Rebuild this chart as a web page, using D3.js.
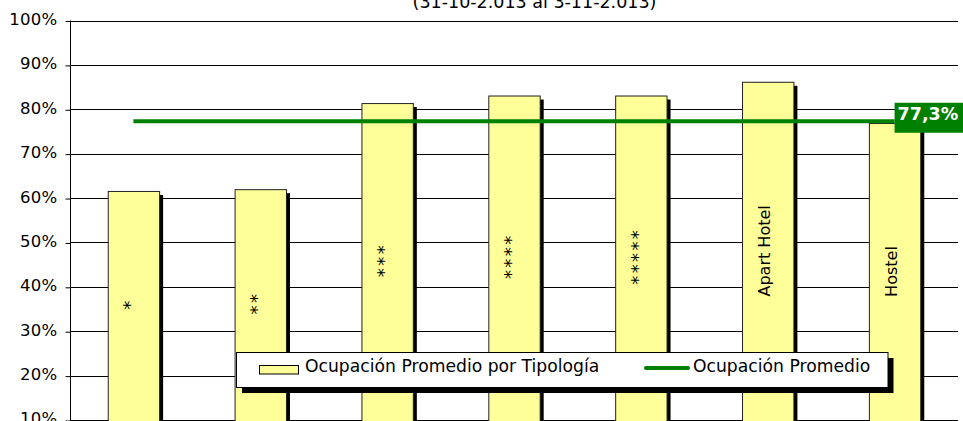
<!DOCTYPE html>
<html>
<head>
<meta charset="utf-8">
<script src="https://cdn.jsdelivr.net/npm/d3@7"></script>
<style>
html, body { margin: 0; padding: 0; background: #fff; overflow: hidden; }
svg { display: block; font-family: "DejaVu Sans", Verdana, sans-serif; }
</style>
</head>
<body>
<svg id="chart" width="963" height="421"></svg>
<script>
const categories = ["*", "**", "***", "****", "*****", "Apart Hotel", "Hostel"];
const occupancy = [61.6, 62.0, 81.4, 83.1, 83.1, 86.2, 76.9];
const averageOccupancy = 77.3;
const averageLabel = "77,3%";
const yTicks = [10, 20, 30, 40, 50, 60, 70, 80, 90, 100];
const titleText = "(31-10-2.013 al 3-11-2.013)";
const legendLabels = ["Ocupación Promedio por Tipología", "Ocupación Promedio"];

const svg = d3.select("#chart");
const plotLeft = 70, plotRight = 958, plotTop = 20.5, plotBottom = 420;

const x = d3.scaleBand().domain(categories).range([plotLeft, plotRight])
  .paddingInner(0.595).paddingOuter(0.2975);
const y = d3.scaleLinear().domain([10, 100]).range([plotBottom, plotTop]);

// title
svg.append("text").attr("x", 534.5).attr("y", 8.3)
  .attr("text-anchor", "middle").attr("font-size", 17.5).attr("fill", "#000")
  .text(titleText);

// gridlines
svg.append("g").selectAll("line").data(yTicks).join("line")
  .attr("x1", plotLeft).attr("x2", plotRight)
  .attr("y1", d => Math.round(y(d)) + 0.5).attr("y2", d => Math.round(y(d)) + 0.5)
  .attr("stroke", "#000").attr("stroke-width", 1);

// y axis
const yAxis = d3.axisLeft(y).tickValues(yTicks).tickFormat(d => d + "%")
  .tickSize(5).tickPadding(8);
const gy = svg.append("g").attr("transform", `translate(${plotLeft + 0.5},0.5)`).call(yAxis);
gy.select(".domain").attr("stroke", "#000").attr("d", `M0,${plotTop - 0.5}V${plotBottom + 5}`);
gy.selectAll(".tick line").attr("stroke", "#000");
gy.selectAll(".tick text").attr("font-size", 16.5).attr("font-family", "DejaVu Sans")
  .attr("letter-spacing", "0.3px")
  .attr("fill", "#000").attr("dy", "0.21em");

// bar shadows
svg.append("g").selectAll("rect").data(occupancy).join("rect")
  .attr("x", (d, i) => x(categories[i]) + 4)
  .attr("y", d => y(d) + 4)
  .attr("width", x.bandwidth())
  .attr("height", d => plotBottom - y(d) + 10)
  .attr("fill", "#000");

// bars
svg.append("g").selectAll("rect").data(occupancy).join("rect")
  .attr("x", (d, i) => x(categories[i]) + 0.5)
  .attr("y", d => y(d) + 0.5)
  .attr("width", x.bandwidth())
  .attr("height", d => plotBottom - y(d) + 10)
  .attr("fill", "#FFFF99").attr("stroke", "#222").attr("stroke-width", 1);

// bar labels (rotated)
const isStars = s => /^\*+$/.test(s);
svg.append("g").selectAll("text").data(occupancy).join("text")
  .attr("transform", (d, i) => {
    const cx = x(categories[i]) + x.bandwidth() / 2;
    const cy = (y(d) + y(10)) / 2;
    const shift = isStars(categories[i]) ? -1.5 : 0;
    return `translate(${cx},${cy + shift}) rotate(-90)`;
  })
  .attr("text-anchor", "middle")
  .attr("dy", (d, i) => isStars(categories[i]) ? "0.16em" : "0.15em")
  .attr("font-size", (d, i) => isStars(categories[i]) ? 18 : 16)
  .attr("letter-spacing", (d, i) => isStars(categories[i]) ? "2.4px" : null)
  .attr("fill", "#000")
  .text((d, i) => categories[i]);

// average line
const x0 = x(categories[0]) + x.bandwidth() / 2;
const x1 = x(categories[categories.length - 1]) + x.bandwidth() / 2;
svg.append("line").attr("x1", x0).attr("x2", x1)
  .attr("y1", y(averageOccupancy)).attr("y2", y(averageOccupancy))
  .attr("stroke", "#008000").attr("stroke-width", 4);

// average label
svg.append("rect").attr("x", x1).attr("y", y(averageOccupancy) - 18.5)
  .attr("width", 70).attr("height", 30).attr("fill", "#008000");
svg.append("text").attr("x", x1 + 3).attr("y", y(averageOccupancy) - 1)
  .attr("font-size", 17.5).attr("font-weight", "bold").attr("fill", "#fff")
  .text(averageLabel);

// legend
const lg = svg.append("g");
lg.append("rect").attr("x", 242).attr("y", 358).attr("width", 651.5).attr("height", 35).attr("fill", "#000");
lg.append("rect").attr("x", 236.5).attr("y", 352.5).attr("width", 651.5).attr("height", 35)
  .attr("fill", "#fff").attr("stroke", "#000").attr("stroke-width", 1);
lg.append("rect").attr("x", 259.5).attr("y", 365.5).attr("width", 39).attr("height", 8.5)
  .attr("fill", "#FFFF99").attr("stroke", "#000").attr("stroke-width", 1);
lg.append("text").attr("x", 305).attr("y", 372.3).attr("font-size", 17.2).attr("fill", "#000")
  .text(legendLabels[0]);
lg.append("line").attr("x1", 646).attr("x2", 688).attr("y1", 368).attr("y2", 368)
  .attr("stroke", "#008000").attr("stroke-width", 4).attr("stroke-linecap", "round");
lg.append("text").attr("x", 693).attr("y", 372.3).attr("font-size", 17.2).attr("fill", "#000")
  .text(legendLabels[1]);
</script>
</body>
</html>
